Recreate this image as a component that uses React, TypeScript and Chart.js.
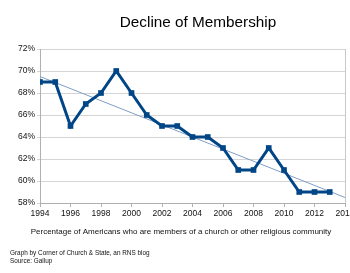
import React, { useEffect, useRef } from "react";
import { Chart, registerables } from "chart.js";

Chart.register(...registerables);

const years = [1994, 1995, 1996, 1997, 1998, 1999, 2000, 2001, 2002, 2003, 2004, 2005, 2006, 2007, 2008, 2009, 2010, 2011, 2012, 2013];
const membership = [69, 69, 65, 67, 68, 70, 68, 66, 65, 65, 64, 64, 63, 61, 61, 63, 61, 59, 59, 59];
const trendYears = [1994, 2014];
const trendValues = [69.5, 58.5];
const titleText = "Decline of Membership";
const captionText = "Percentage of Americans who are members of a church or other religious community";
const footerLines = ["Graph by Corner of Church & State, an RNS blog", "Source: Gallup"];

const FONT = "'Liberation Sans', Arial, Helvetica, sans-serif";

export default function App() {
  const ref = useRef<HTMLCanvasElement | null>(null);
  useEffect(() => {
    if (!ref.current) return;
    const textPlugin = {
      id: "texts",
      afterDraw(chart: any) {
        const { ctx, chartArea } = chart;
        ctx.save();
        ctx.fillStyle = "#000";
        ctx.textBaseline = "middle";
        ctx.textAlign = "center";
        ctx.font = `15.3px ${FONT}`;
        ctx.fillText(titleText, 198, 23);
        ctx.font = `8px ${FONT}`;
        ctx.fillStyle = "#111";
        ctx.fillText(captionText, 181, 232);
        ctx.textAlign = "left";
        ctx.font = `6.4px ${FONT}`;
        ctx.fillText(footerLines[0], 10, 253);
        ctx.fillText(footerLines[1], 10, 261);
        ctx.strokeStyle = "#c8c8c8";
        ctx.lineWidth = 1;
        ctx.beginPath();
        ctx.moveTo(Math.round(chartArea.right) + 0.5, chartArea.top);
        ctx.lineTo(Math.round(chartArea.right) + 0.5, chartArea.bottom);
        ctx.stroke();
        ctx.restore();
      },
    };
    const chart = new Chart(ref.current, {
      type: "line",
      data: {
        datasets: [
          {
            data: years.map((y, i) => ({ x: y, y: membership[i] })),
            borderColor: "#004586",
            backgroundColor: "#004586",
            borderWidth: 3,
            pointStyle: "rect",
            pointRadius: 4,
            pointBorderWidth: 0,
            tension: 0,
            order: 0,
          },
          {
            data: trendYears.map((y, i) => ({ x: y, y: trendValues[i] })),
            borderColor: "#7f9dc6",
            borderWidth: 1,
            pointRadius: 0,
            tension: 0,
            order: 1,
          },
        ],
      },
      options: {
        responsive: false,
        animation: false,
        layout: { padding: { left: 0, right: 17, top: 49, bottom: 50 } },
        plugins: { legend: { display: false }, tooltip: { enabled: false }, title: { display: false } },
        scales: {
          x: {
            type: "linear",
            min: 1994,
            max: 2014,
            ticks: {
              stepSize: 2,
              callback: (v: any) => String(v),
              font: { family: FONT, size: 8.5 },
              color: "#111",
              padding: 2,
              maxRotation: 0,
            },
            grid: { drawOnChartArea: false, tickLength: 4, color: "#b0b0b0" },
            border: { color: "#b0b0b0" },
            afterFit: (s: any) => { s.height = 20; },
          },
          y: {
            min: 58,
            max: 72,
            ticks: {
              stepSize: 2,
              callback: (v: any) => v + "%",
              font: { family: FONT, size: 8.5 },
              color: "#111",
              padding: 2,
            },
            grid: { color: "#d4d4d4", tickLength: 3 },
            border: { color: "#b0b0b0" },
            afterFit: (s: any) => { s.width = 40; },
          },
        },
      },
      plugins: [textPlugin],
    });
    return () => chart.destroy();
  }, []);
  return (
    <div style={{ position: "fixed", left: 0, top: 0, width: 350, height: 273, overflow: "hidden", background: "#fff" }}>
      <canvas ref={ref} width={362} height={273} style={{ width: 362, height: 273, display: "block" }} />
    </div>
  );
}
